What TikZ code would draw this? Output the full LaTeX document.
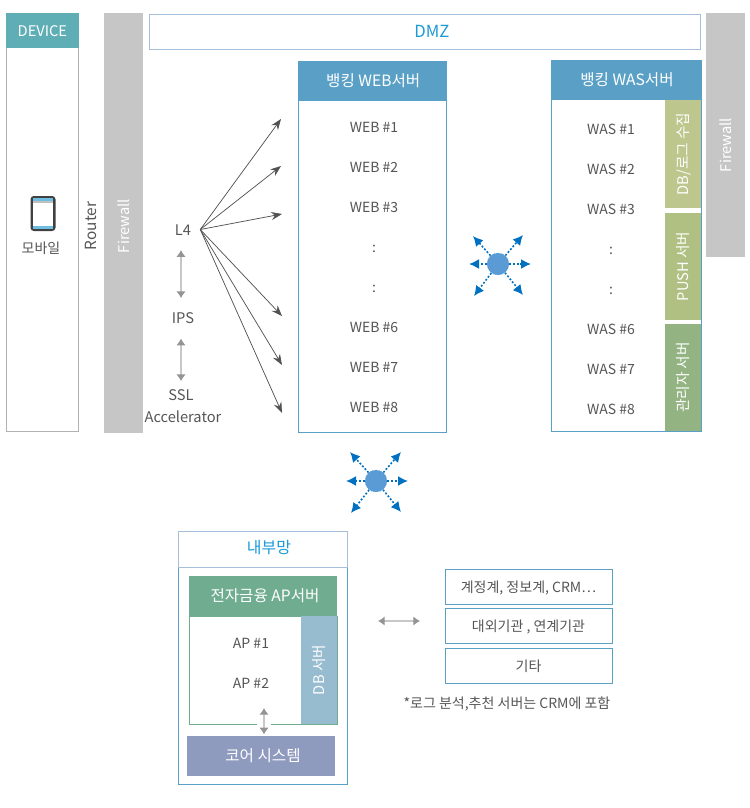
\documentclass[tikz,border=0pt]{standalone}
\usepackage{fontspec}
\setmainfont{Noto Sans CJK KR}
\usetikzlibrary{
  arrows.meta,
  positioning
}
\definecolor{device}{RGB}{95,174,182}
\definecolor{wall}{RGB}{198,198,198}
\definecolor{frame}{RGB}{90,160,198}
\definecolor{paleframe}{RGB}{166,192,220}
\definecolor{title}{RGB}{27,154,214}
\definecolor{label}{RGB}{85,85,85}
\definecolor{screen}{RGB}{110,190,225}
\definecolor{dbside}{RGB}{188,198,141}
\definecolor{pushside}{RGB}{175,192,130}
\definecolor{adminside}{RGB}{147,179,130}
\definecolor{apgreen}{RGB}{112,173,144}
\definecolor{apside}{RGB}{151,187,207}
\definecolor{core}{RGB}{143,154,191}
\definecolor{hub}{RGB}{91,155,213}
\definecolor{spoke}{RGB}{0,112,192}

\begin{document}
\begin{tikzpicture}[
  x=.75pt, y=-.75pt,
  every node/.style={font=\fontsize{10.5pt}{12pt}\selectfont, text=label, inner sep=0pt,
                     text height=10.5pt, text depth=2pt},
  sized/.style 2 args={minimum width=#1*.75pt, minimum height=#2*.75pt},
  panel/.style={draw=frame, line width=.6pt, fill=white},
  head/.style={fill=frame, text=white, font=\fontsize{11.7pt}{13pt}\selectfont},
  side/.style={rotate=90, text=white, font=\fontsize{11pt}{13pt}\selectfont},
  big/.style={font=\fontsize{11pt}{13pt}\selectfont},
  wallbar/.style={fill=wall},
  walltext/.style={rotate=90, text=white, font=\fontsize{11pt}{13pt}\selectfont},
  fan/.style={-{Stealth[length=8pt,width=6pt]}, draw=black!68, line width=.55pt},
  link/.style={{Latex[length=5pt,width=7pt,color=black!42]}-{Latex[length=5pt,width=7pt,color=black!42]},
               draw=black!22, line width=.9pt},
  hubdot/.style={circle, fill=hub, draw=spoke!70, densely dotted, minimum size=16.5pt},
  spokeline/.style={-{Latex[length=7.5pt,width=7.5pt]}, draw=spoke, line width=1.2pt,
                    dash pattern=on 1.4pt off 1.4pt}
]
\useasboundingbox (0,0) rectangle (750,808);

% device column
\node[panel, draw=black!30, sized={72.5}{418}] (devbox) at (42.4,222) {};
\node[head, big, fill=device, sized={72.5}{35}] (device) at (42.4,30.5) {DEVICE};
\node[fill=black!75, rounded corners=2.5pt, sized={25}{35}] (mobile) at (43,213.5) {};
\fill[white] (33,198) rectangle (53,229);
\fill[screen] (33,198) rectangle (53,201);
\fill[black!25] (33,201) rectangle (53,203);
\fill[screen] (33,226) rectangle (53,229);
\node (mobiletxt) at (41,248) {모바일};

% walls
\node[rotate=90, font=\fontsize{11.5pt}{13pt}\selectfont] (router) at (91,226) {Router};
\node[wallbar, sized={39}{420}] (wall1) at (123.5,223) {};
\node[walltext] (wall1txt) at (124,226) {Firewall};
\node[wallbar, sized={39}{244}] (wall2) at (725.5,135) {};
\node[walltext] (wall2txt) at (726,145) {Firewall};

% dmz
\node[draw=paleframe, line width=.7pt, sized={551}{35}] (dmz) at (424.5,31.5) {};
\node[text=title, font=\fontsize{12.5pt}{14pt}\selectfont] (dmztxt) at (432,32) {DMZ};

% web tier
\node[panel, sized={148}{371}] (webbox) at (372.2,246.5) {};
\node[head, sized={148}{40}] (webhead) at (372.2,81) {\hspace*{1.5pt}뱅킹 WEB서버};
\foreach \n/\t/\y in {1/WEB \#1/127, 2/WEB \#2/167, 3/WEB \#3/207, 4/:/247,
                      5/:/287, 6/WEB \#6/327, 7/WEB \#7/367, 8/WEB \#8/407}
  \node (web\n) at (374,\y) {\t};

% was tier
\node[panel, sized={150}{371}] (wasbox) at (626,245.5) {};
\node[head, sized={150}{40}] (washead) at (626,80) {\hspace*{1.5pt}뱅킹 WAS서버};
\foreach \n/\t/\y in {1/WAS \#1/129, 2/WAS \#2/169, 3/WAS \#3/209, 4/:/249,
                      5/:/289, 6/WAS \#6/329, 7/WAS \#7/369, 8/WAS \#8/409}
  \node (was\n) at (611,\y) {\t};
\node[side, fill=dbside, sized={108}{36}] (dbserver) at (683,154) {DB/로그 수집};
\node[side, fill=pushside, sized={107}{36}] (pushserver) at (683,266.5) {PUSH 서버};
\node[side, fill=adminside, sized={107}{36}] (adminserver) at (683,377.5) {관리자 서버};

% l4 and friends
\node[big, minimum width=34*.75pt] (l4) at (183,229.5) {L4};
\node[big] (ips) at (183,318) {IPS};
\node[big] (ssl) at (181,395) {SSL};
\node[big] (accel) at (183,417) {Accelerator};
\coordinate (linkx) at (181,0);
\draw[link, shorten <=9pt, shorten >=8.5pt] (l4.south -| linkx) -- (ips.north -| linkx);
\draw[link, shorten <=9pt, shorten >=4pt] (ips.south -| linkx) -- (ssl.north -| linkx);
\foreach \n/\px/\py in {1/281/119, 2/281/166, 3/282/214, 4/282/316, 5/282/365, 6/282/413} {
  \coordinate (web tip \n) at (\px,\py);
  \draw[fan] (l4.east) -- (web tip \n);
}

% hubs
\node[hubdot] (hubtop) at (498,264) {};
\foreach \n/\px/\py in {1/531/264, 2/469/264, 3/523/235, 4/473/236, 5/474/296, 6/523/295} {
  \coordinate (top tip \n) at (\px,\py);
  \draw[spokeline] (hubtop) -- (top tip \n);
}
\node[hubdot] (hublow) at (376,481) {};
\foreach \n/\px/\py in {1/408/481, 2/346/481, 3/401/452, 4/350/452, 5/351/513, 6/401/512} {
  \coordinate (low tip \n) at (\px,\py);
  \draw[spokeline] (hublow) -- (low tip \n);
}

% internal network
\node[panel, sized={169.5}{252.5}] (innerbox) at (263,657.8) {};
\node[draw=paleframe, line width=.7pt, sized={169.5}{36}] (inner) at (263,549.5) {};
\node[text=title, font=\fontsize{12pt}{14pt}\selectfont] (innertxt) at (269,548) {내부망};
\node[draw=apgreen, line width=.6pt, fill=white, sized={148}{108}] (apbox) at (263,670) {};
\node[head, fill=apgreen, sized={148}{40}] (aphead) at (263,596) {\hspace*{3pt}전자금융 AP서버};
\node[side, fill=apside, sized={108}{36}] (apdb) at (319,670) {DB 서버};
\node (ap1) at (251,643) {AP \#1};
\node (ap2) at (251,683) {AP \#2};
\node[head, fill=core, sized={148}{40}] (coresys) at (261,756) {\hspace*{3pt}코어 시스템};
\coordinate (apgap) at (264,708);
\draw[link, preaction={draw=white, line width=10.5pt, shorten <=12pt, shorten >=1pt, arrows=-}, shorten >=1pt]
  (apgap) -- (coresys.north -| apgap);

% linked systems
\node[draw=frame, line width=.6pt, sized={167}{35}] (acct) at (528.5,587) {계정계, 정보계, CRM⋯};
\node[draw=frame, line width=.6pt, below=2.6pt of acct.south, anchor=north, sized={167}{35}] (ext) {대외기관 , 연계기관};
\node[draw=frame, line width=.6pt, below=2.6pt of ext.south, anchor=north, sized={167}{35}] (etc) {기타};
\coordinate (linkleft) at (378,621);
\coordinate (linkright) at (420,621);
\draw[link] (linkleft) -- (linkright);
\node (note) at (507,703) {*로그 분석,추천 서버는 CRM에 포함};

\end{tikzpicture}
\end{document}
